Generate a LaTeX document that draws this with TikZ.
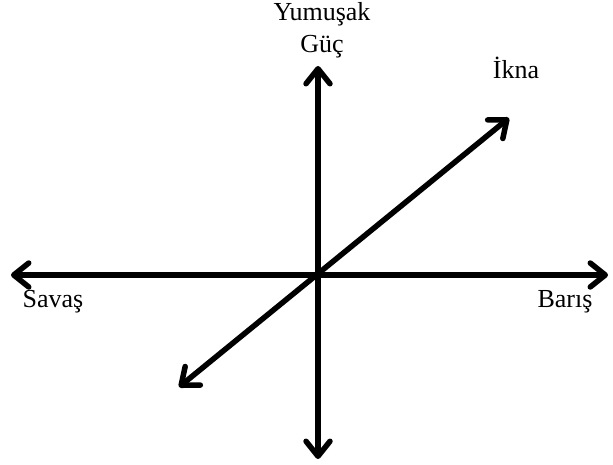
\documentclass[tikz,border=0pt]{standalone}
\usepackage{fontspec}
\setmainfont{Liberation Serif}
\usetikzlibrary{arrows.meta}
\begin{document}
\begin{tikzpicture}[x=1pt,y=-1pt,
  tip/.tip={Straight Barb[length=15pt,width=24pt,line cap=round,line join=round]},
  axis/.style={line width=5.5pt, line cap=round, arrows={tip-tip}},
  lbl/.style={font=\fontsize{26}{30}\selectfont, inner sep=0pt, anchor=base, align=center}]
\useasboundingbox (0,0) rectangle (613,464);
\coordinate (L) at (11,275);
\coordinate (R) at (608,275);
\coordinate (T) at (318,66);
\coordinate (B) at (318,459);
\coordinate (DL) at (179,387);
\coordinate (UR) at (509,118);
\draw[axis] (L) -- (R);
\draw[axis] (B) -- (T);
\draw[axis] (DL) -- (UR);
\node[lbl] (yum) at (322,20) {Yumuşak};
\node[lbl] (guc) at (322,52) {Güç};
\node[lbl] (ikna) at (516,78) {İkna};
\node[lbl] (savas) at (53,307) {Savaş};
\node[lbl] (baris) at (565,307) {Barış};
\end{tikzpicture}
\end{document}
